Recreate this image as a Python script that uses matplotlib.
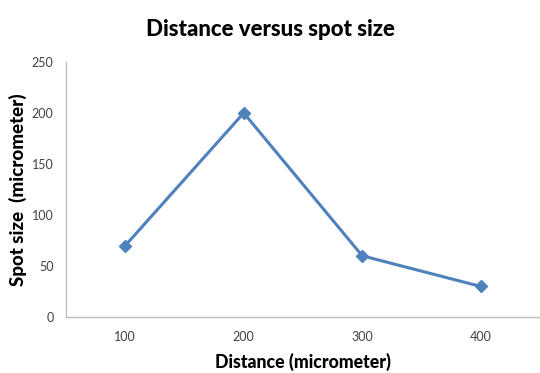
import matplotlib
matplotlib.use("Agg")
import matplotlib.pyplot as plt

categories = ["100", "200", "300", "400"]
spot_size = [70, 200, 60, 30]
y_ticks = [0, 50, 100, 150, 200, 250]

plt.rcParams['font.family'] = ['Lato', 'DejaVu Sans']

fig = plt.figure(figsize=(5.4, 3.73), dpi=100)
ax = fig.add_axes([0.1222, 0.150, 0.8778, 0.684])

x = list(range(len(categories)))
ax.plot(x, spot_size, color="#4F81BD", lw=2.2, marker="D", ms=6.5,
        markerfacecolor="#4F81BD", markeredgecolor="#4F81BD")

ax.set_xlim(-0.5, len(categories) - 0.5)
ax.set_ylim(0, 250)
ax.set_yticks(y_ticks)
ax.set_xticks(x)
ax.set_xticklabels(categories)
ax.tick_params(length=0, labelsize=9, colors="#404040", pad=10)
ax.tick_params(axis='y', pad=9)

for s in ["top", "right"]:
    ax.spines[s].set_visible(False)
for s in ["left", "bottom"]:
    ax.spines[s].set_color("#BFBFBF")
    ax.spines[s].set_linewidth(1)

ax.set_xlabel("Distance (micrometer)", fontsize=12.8, fontweight="black", labelpad=7)
ax.set_ylabel("Spot size  (micrometer)", fontsize=13.5, fontweight="black", labelpad=6)
ax.yaxis.set_label_coords(-0.083, 0.5)
fig.text(0.5, 0.92, "Distance versus spot size", ha="center", va="center",
         fontsize=16, fontweight="black")

fig.savefig("out.png", dpi=100)
